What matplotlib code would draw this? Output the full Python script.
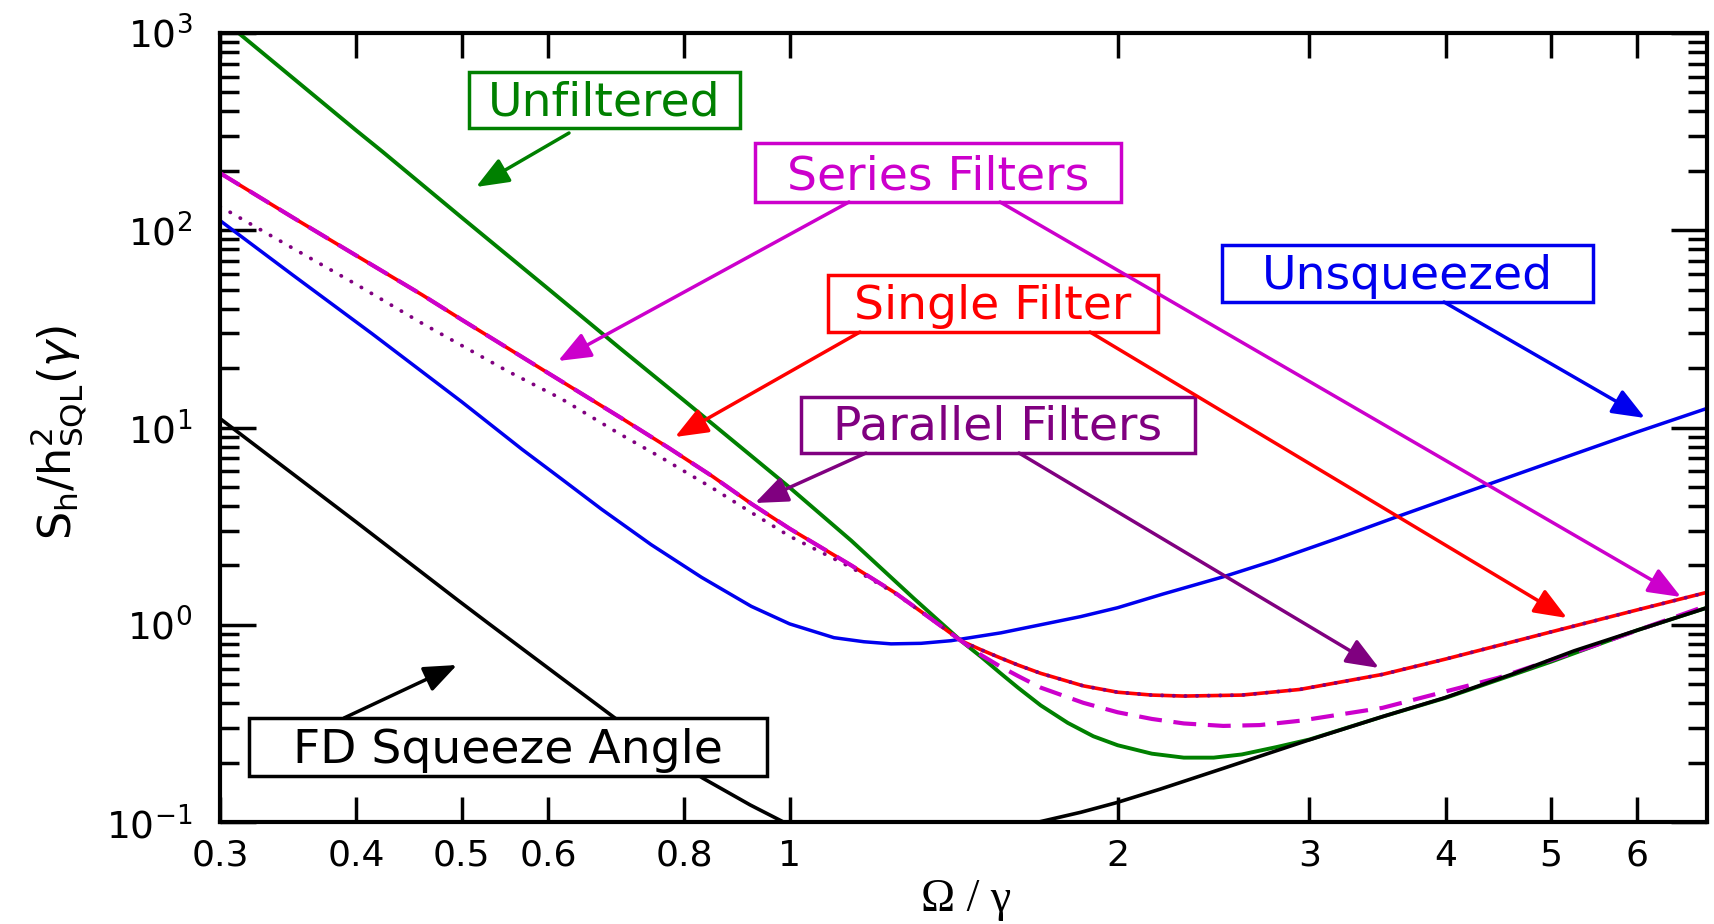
import matplotlib
matplotlib.use("Agg")
import matplotlib.pyplot as plt
from matplotlib.patches import Rectangle
from matplotlib.ticker import NullLocator

# values: x = Omega/gamma, y = S_h / h_SQL^2
w_unf = [0.3, 0.312, 0.4, 0.423, 0.5, 0.6, 0.7, 0.8, 0.916, 1.0, 1.139, 1.3, 1.436,
         1.5, 1.56, 1.62, 1.7, 1.8, 1.9, 2.0, 2.15, 2.3, 2.45, 2.6, 2.8, 3.0, 3.5,
         4.0, 5.0, 6.0, 6.95]
s_unf = [1195, 1000, 321, 250, 116, 50.6, 25.0, 13.7, 7.4, 4.96, 2.67, 1.36, 0.83,
         0.685, 0.57, 0.48, 0.39, 0.318, 0.272, 0.245, 0.222, 0.212, 0.212, 0.22,
         0.24, 0.262, 0.342, 0.426, 0.65, 0.939, 1.22]

w_single = [0.3, 0.35, 0.4, 0.46, 0.5, 0.6, 0.7, 0.774, 0.85, 0.922, 1.0, 1.139, 1.25,
            1.35, 1.436, 1.5, 1.56, 1.62, 1.7, 1.86, 2.0, 2.15, 2.3, 2.6, 2.94, 3.5,
            4.0, 5.0, 6.0, 6.95]
s_single = [195, 116, 74.5, 47, 35.2, 18.9, 11.2, 7.9, 5.64, 4.11, 3.07, 2.0, 1.45,
            1.066, 0.83, 0.745, 0.68, 0.625, 0.567, 0.49, 0.455, 0.44, 0.435, 0.44, 0.47,
            0.56, 0.67, 0.92, 1.19, 1.46]

w_series = [0.3, 0.35, 0.4, 0.46, 0.5, 0.6, 0.7, 0.774, 0.85, 0.922, 1.0, 1.139, 1.25,
            1.35, 1.436, 1.5, 1.56, 1.62, 1.7, 1.86, 2.0, 2.15, 2.3, 2.5, 2.7, 2.94,
            3.5, 4.47, 5.5, 6.95]
s_series = [195, 116, 74.5, 47, 35.2, 18.9, 11.2, 7.9, 5.64, 4.11, 3.07, 2.0, 1.45,
            1.066, 0.83, 0.70, 0.615, 0.55, 0.48, 0.402, 0.36, 0.333, 0.316, 0.307,
            0.31, 0.326, 0.379, 0.538, 0.79, 1.25]

w_parallel = [0.3, 0.35, 0.4, 0.46, 0.55, 0.617, 0.697, 0.762, 0.85, 0.922, 1.0, 1.139,
              1.25, 1.35, 1.436, 1.5, 1.56, 1.62, 1.7, 1.86, 2.0, 2.15, 2.3, 2.6, 2.94,
              3.5, 4.0, 5.0, 6.0, 6.95]
s_parallel = [132, 81, 53.2, 33.7, 19.4, 14.0, 9.33, 7.05, 4.92, 3.71, 2.81, 1.95,
              1.44, 1.066, 0.83, 0.745, 0.68, 0.625, 0.567, 0.49, 0.455, 0.44, 0.435,
              0.44, 0.47, 0.56, 0.67, 0.92, 1.19, 1.46]

w_unsq = [0.3, 0.35, 0.414, 0.5, 0.568, 0.617, 0.672, 0.746, 0.83, 0.922, 1.0, 1.098,
          1.17, 1.239, 1.32, 1.406, 1.563, 1.7, 1.85, 2.0, 2.2, 2.5, 2.78, 3.2, 3.59,
          4.2, 5.0, 6.0, 6.95]
s_unsq = [112, 59.2, 29.8, 13.5, 7.75, 5.5, 3.85, 2.55, 1.74, 1.24, 1.01, 0.86, 0.82,
          0.80, 0.805, 0.83, 0.91, 1.0, 1.1, 1.22, 1.43, 1.75, 2.11, 2.77, 3.49, 4.75,
          6.67, 9.5, 12.5]

w_fd_low = [0.3, 0.4, 0.497, 0.528, 0.617, 0.691, 0.76, 0.832, 0.92, 0.987, 1.0]
s_fd_low = [11.1, 3.32, 1.32, 1.025, 0.538, 0.337, 0.235, 0.167, 0.122, 0.1, 0.0964]
w_fd_high = [1.68, 1.693, 1.85, 1.992, 2.19, 2.5, 2.98, 3.5, 3.99, 4.6, 5.25, 6.0, 6.95]
s_fd_high = [0.097, 0.1, 0.112, 0.125, 0.147, 0.187, 0.258, 0.342, 0.426, 0.561, 0.738,
             0.939, 1.22]

x_ticks = [0.3, 0.4, 0.5, 0.6, 0.8, 1, 2, 3, 4, 5, 6]
x_tick_labels = ["0.3", "0.4", "0.5", "0.6", "0.8", "1", "2", "3", "4", "5", "6"]

GREEN = "#008000"
MAGENTA = "#cc00cc"
RED = "#ff0000"
PURPLE = "#800080"
BLUE = "#0000ee"

plt.rcParams["font.family"] = ["DejaVu Sans"]
plt.rcParams["mathtext.fontset"] = "dejavusans"

W, H = 1715, 924
AX_L, AX_R, AX_T, AX_B = 220, 1707, 33, 822


def fr(px, py):
    # pixel position in the picture -> axes fraction
    return (px - AX_L) / (AX_R - AX_L), (AX_B - py) / (AX_B - AX_T)


fig = plt.figure(figsize=(W / 100, H / 100), dpi=100)
ax = fig.add_axes([AX_L / W, 1 - AX_B / H, (AX_R - AX_L) / W, (AX_B - AX_T) / H])

ax.plot(w_unf, s_unf, color=GREEN, lw=2.8)
ax.plot(w_unsq, s_unsq, color=BLUE, lw=2.5)
ax.plot(w_single, s_single, color=RED, lw=2.6)
ax.plot(w_parallel, s_parallel, color=PURPLE, lw=2.7, linestyle=(0, (0.1, 3.0)),
        dash_capstyle="round")
ax.plot(w_series, s_series, color=MAGENTA, lw=3.0, linestyle=(0, (5.5, 2.8)))
ax.plot(w_fd_low, s_fd_low, color="black", lw=2.6)
ax.plot(w_fd_high, s_fd_high, color="black", lw=2.6)

ax.set_xscale("log")
ax.set_yscale("log")
ax.set_xlim(0.3, 6.95)
ax.set_ylim(0.1, 1000)
ax.set_xticks(x_ticks, x_tick_labels)
ax.xaxis.set_minor_locator(NullLocator())

ax.tick_params(which="both", direction="in", top=True, right=True, width=2.5)
ax.tick_params(axis="x", which="major", length=18, labelsize=26, pad=12)
ax.tick_params(axis="y", which="major", length=26, labelsize=27, pad=20)
ax.tick_params(axis="y", which="minor", length=14)
for sp in ax.spines.values():
    sp.set_linewidth(3)

fig.text(966 / W, 1 - 900 / H, "Ω / γ", family="Liberation Serif", fontsize=33,
         ha="center", va="center")
fig.text(58 / W, 1 - 432 / H, r"$\mathrm{S_h/h^2_{SQL}}(\gamma)$", rotation=90,
         fontsize=32, ha="center", va="center")

# label boxes (pixel corners) and their arrows (start, tip)
labels = [
    ("Unfiltered", GREEN, (469, 72, 740, 128), [((569, 133), (476, 187))]),
    ("Series Filters", MAGENTA, (755, 143, 1121, 202),
     [((849, 202), (558, 361)), ((1000, 202), (1681, 597))]),
    ("Single Filter", RED, (828, 275, 1158, 332),
     [((860, 332), (675, 437)), ((1090, 332), (1567, 618))]),
    ("Unsqueezed", BLUE, (1222, 245, 1593, 302), [((1444, 302), (1645, 418))]),
    ("Parallel Filters", PURPLE, (801, 397, 1195, 453),
     [((866, 453), (755, 503)), ((1019, 453), (1379, 668))]),
    ("FD Squeeze Angle", "black", (249, 718, 767, 776), [((344, 718), (457, 665))]),
]

for text, col, (x0, y0, x1, y1), arrows in labels:
    bx, by = fr(x0, y1)
    bw = (x1 - x0) / (AX_R - AX_L)
    bh = (y1 - y0) / (AX_B - AX_T)
    ax.add_patch(Rectangle((bx, by), bw, bh, transform=ax.transAxes, facecolor="white",
                           edgecolor=col, lw=2.5, zorder=5, clip_on=False))
    tx, ty = fr((x0 + x1) / 2, y1 - 13)
    ax.text(tx, ty, text, transform=ax.transAxes, ha="center", va="baseline",
            color=col, fontsize=34, zorder=6)
    for (sx, sy), (ex, ey) in arrows:
        ax.annotate("", xy=fr(ex, ey), xytext=fr(sx, sy), xycoords="axes fraction",
                    textcoords="axes fraction", zorder=6,
                    arrowprops=dict(arrowstyle="-|>,head_length=0.5,head_width=0.2",
                                    mutation_scale=40, color=col, lw=2.5,
                                    shrinkA=0, shrinkB=0))

fig.savefig("out.png", dpi=100)
